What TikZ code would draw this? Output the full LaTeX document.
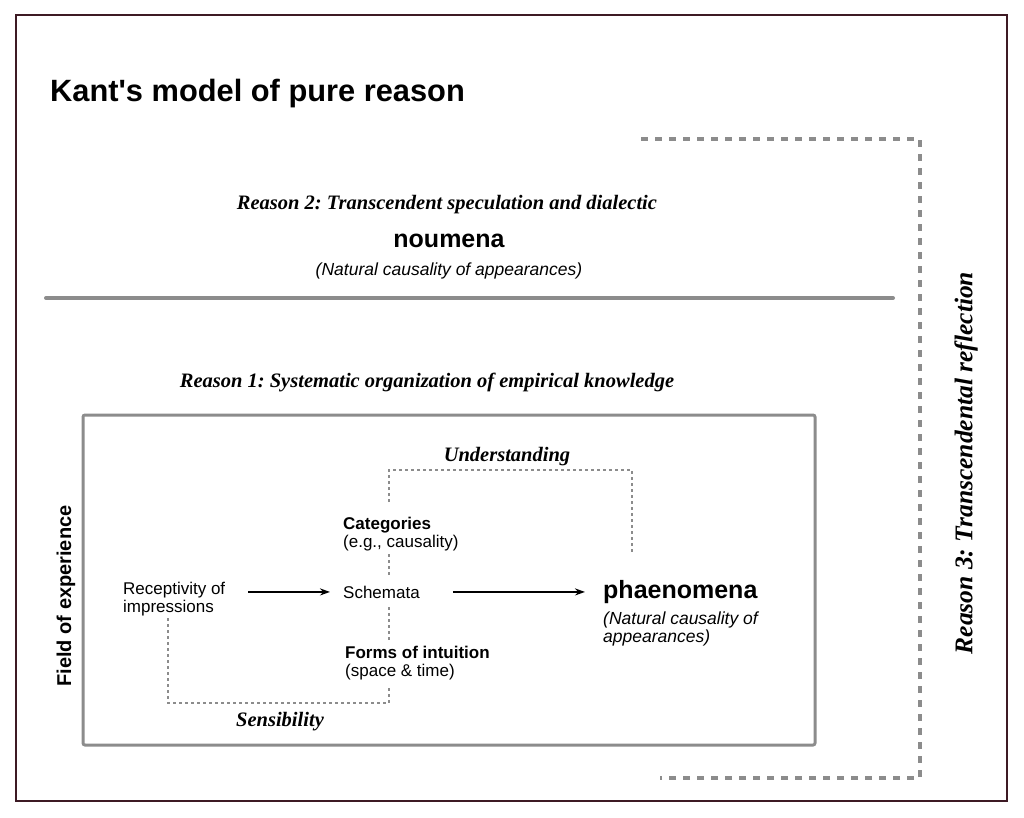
\documentclass[tikz,border=0pt]{standalone}
\usepackage{fontspec}
\setmainfont{Liberation Serif}
\setsansfont{Liberation Sans}
\usetikzlibrary{arrows.meta}
\definecolor{framered}{HTML}{3D1A24}
\definecolor{linegray}{HTML}{8C8C8C}
\frenchspacing
\tikzset{
  heading/.style={font=\sffamily\bfseries\fontsize{30.8}{32}\selectfont, inner sep=0},
  reason/.style={font=\rmfamily\bfseries\itshape\fontsize{20.5}{22}\selectfont, inner sep=0},
  realm/.style={font=\sffamily\bfseries\fontsize{25}{27}\selectfont, inner sep=0},
  gloss/.style={font=\sffamily\itshape\fontsize{17.5}{14}\selectfont, inner sep=0, align=left},
  body/.style={font=\sffamily\fontsize{17}{18}\selectfont, inner sep=0, align=left},
  faculty/.style={font=\rmfamily\bfseries\itshape\fontsize{20.5}{22}\selectfont, inner sep=0},
  flow/.style={line width=2pt, -{Stealth[length=10pt,width=7pt]}},
  dotline/.style={linegray, line width=1.4pt, dash pattern=on 3pt off 3pt},
  reflect/.style={linegray, line width=3.5pt, dash pattern=on 7pt off 7pt}
}
\begin{document}
\begin{tikzpicture}[x=1pt, y=-1pt]
\useasboundingbox (0,0) rectangle (1024,817);
\draw[framered, line width=2pt] (16,15) rectangle (1007,801);
\node[heading, anchor=base west] (title) at (50,101) {Kant\textquotesingle s model of pure reason};

% upper realm
\node[reason, anchor=base] (reason2) at (447,209) {Reason 2: Transcendent speculation and dialectic};
\node[realm, anchor=base] (noumena) at (449,247) {noumena};
\node[gloss, anchor=base] (nounat) at (449,275) {(Natural causality of appearances)};
\draw[linegray, line width=4pt, line cap=round] (46,298) -- (893,298);

% reflection bracket
\coordinate (rtl) at (641,139);
\coordinate (rtr) at (920,139);
\coordinate (rbr) at (920,778);
\coordinate (rbl) at (660,778);
\draw[reflect] (rtl) -- (rtr) -- (rbr) -- (rbl);
\node[reason, font=\rmfamily\bfseries\itshape\fontsize{25.5}{27}\selectfont, rotate=90] (reason3) at (966,463) {Reason 3: Transcendental reflection};

% field of experience
\node[reason, anchor=base] (reason1) at (427,387) {Reason 1: Systematic organization of empirical knowledge};
\draw[linegray, line width=3pt, rounded corners=2pt] (83,415) rectangle (815,745);
\node[body, font=\sffamily\bfseries\fontsize{20}{22}\selectfont, rotate=90] (field) at (66,596) {Field of experience};

\node[body, anchor=north west] (recv) at (123,582) {Receptivity of\\impressions};
\node[body, anchor=base west] (schem) at (343,598) {Schemata};
\node[body, anchor=north west] (cat) at (343,517) {\textbf{Categories}\\(e.g., causality)};
\node[body, anchor=north west] (forms) at (345,646) {\textbf{Forms of intuition}\\(space \& time)};
\node[realm, anchor=base west] (phaen) at (603,598) {phaenomena};
\node[gloss, anchor=north west] (phnat) at (603,612) {(Natural causality of\\appearances)};

\node[faculty, anchor=base] (underst) at (507,461) {Understanding};
\node[faculty, anchor=base] (sensib) at (280,726) {Sensibility};

\coordinate (ul) at (389,470);
\coordinate (ur) at (632,470);
\coordinate (sl) at (168,703);
\coordinate (sr) at (389,703);
\draw[dotline] ([yshift=15pt]cat.north -| ul) -- (ul) -- (ur) -- ([yshift=25pt]phaen.north -| ur);
\draw[dotline] ([yshift=-3pt]cat.south -| ul) -- ([yshift=8pt]schem.north -| ul);
\draw[dotline] ([yshift=-9pt]schem.south -| ul) -- ([yshift=6pt]forms.north -| ul);
\draw[dotline] ([yshift=-2pt]recv.south -| sl) -- (sl) -- (sr) -- ([yshift=-6pt]forms.south -| sr);

\draw[flow] ([xshift=23pt]recv.east |- schem.west) -- ([xshift=-13pt]schem.west);
\draw[flow] ([xshift=33pt]schem.east) -- ([xshift=-18pt]phaen.west |- schem.east);
\end{tikzpicture}
\end{document}
